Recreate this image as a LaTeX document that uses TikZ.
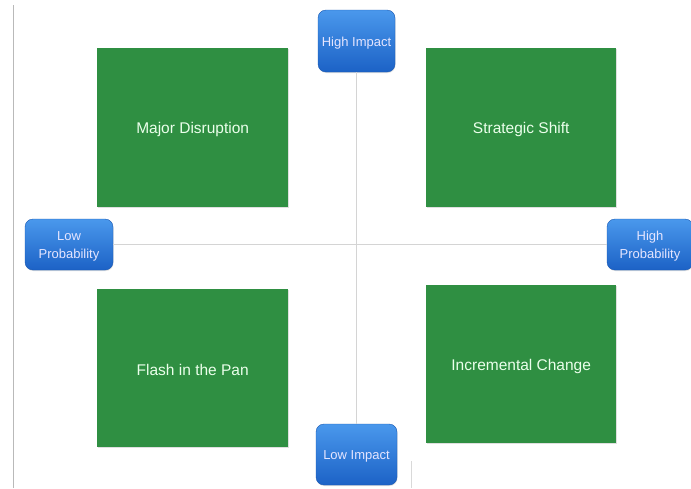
\documentclass[tikz,border=0pt]{standalone}
\usepackage{fontspec}
\setmainfont{Liberation Sans}
\usetikzlibrary{shadows}
\definecolor{quadgreen}{HTML}{2F8F42}
\definecolor{btntop}{HTML}{4A98EC}
\definecolor{btnbot}{HTML}{1C62C6}
\definecolor{axisgray}{HTML}{D4D4D4}
\tikzset{
  quad/.style={fill=quadgreen, draw=none, anchor=north west,
    drop shadow={shadow xshift=0.6pt, shadow yshift=-0.8pt, opacity=0.25}},
  quadtext/.style={text=white!92!green, font=\fontsize{15.5}{18}\selectfont, yshift=-2pt},
  btn/.style={rounded corners=8pt, top color=btntop, bottom color=btnbot,
    draw=btnbot!90!black, line width=0.4pt, text=white!90!blue,
    font=\fontsize{13}{18}\selectfont, align=center, inner sep=0pt,
    drop shadow={shadow xshift=0.5pt, shadow yshift=-1pt, opacity=0.25}},
  btntext/.style={text=white!90!blue, font=\fontsize{13}{18}\selectfont,
    align=center, yshift=-2pt},
  axis/.style={draw=axisgray, line width=0.8pt}
}
\begin{document}
\begin{tikzpicture}[x=1pt, y=-1pt]
  \useasboundingbox[fill=white] (0,0) rectangle (691,488);
  % page margin rule and a short tick at the bottom
  \draw[draw=gray!55, line width=0.8pt] (13,5) -- (13,488);
  \draw[draw=gray!30, line width=0.6pt] (411,461) -- (411,488);

  % axis labels: rounded blue buttons
  \node[btn, minimum width=77pt, minimum height=62pt] (hi) at (356.5,41) {};
  \node[btntext] at (hi.center) {High Impact};
  \node[btn, minimum width=81pt, minimum height=61pt] (li) at (356.5,454.5) {};
  \node[btntext] at (li.center) {Low Impact};
  \node[btn, minimum width=88pt, minimum height=51pt] (lp) at (69,244.5) {};
  \node[btntext] at (lp.center) {Low\\Probability};
  \node[btn, minimum width=86pt, minimum height=51pt] (hp) at (650,244.5) {};
  \node[btntext] at (hp.center) {High\\Probability};

  % axes
  \draw[axis] (hi.south) -- (li.north);
  \draw[axis] (lp.east) -- (hp.west);

  % quadrants
  \node[quad, minimum width=191pt, minimum height=159pt] (md) at (97,48) {};
  \node[quadtext] at (md.center) {Major Disruption};
  \node[quad, minimum width=190pt, minimum height=159pt] (ss) at (426,48) {};
  \node[quadtext] at (ss.center) {Strategic Shift};
  \node[quad, minimum width=191pt, minimum height=158pt] (fp) at (97,289) {};
  \node[quadtext] at (fp.center) {Flash in the Pan};
  \node[quad, minimum width=190pt, minimum height=158pt] (ic) at (426,285) {};
  \node[quadtext] at (ic.center) {Incremental Change};
\end{tikzpicture}
\end{document}
